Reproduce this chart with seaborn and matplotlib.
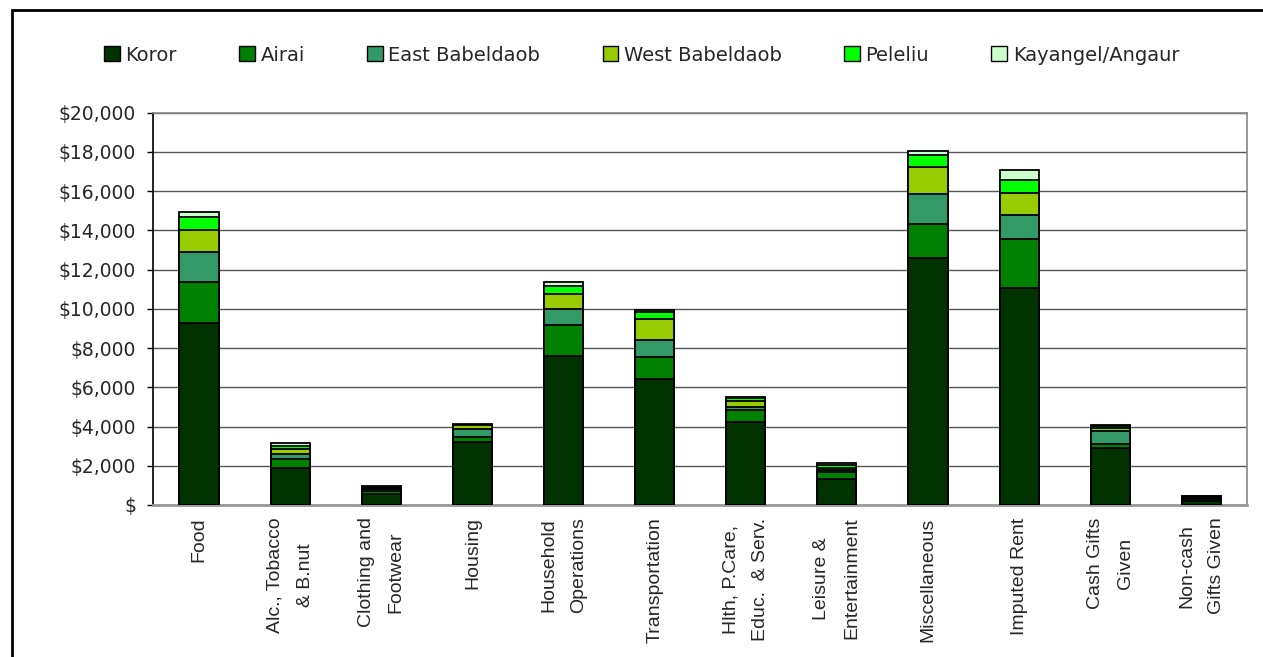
import numpy as np
import pandas as pd
import matplotlib
matplotlib.use("Agg")
import matplotlib.pyplot as plt
from matplotlib.patches import Patch, Rectangle
import seaborn as sns

# Expenditure categories (x axis)
categories = [
    "Food", "Alc., Tobacco\n& B.nut", "Clothing and\nFootwear", "Housing",
    "Household\nOperations", "Transportation", "Hlth, P.Care,\nEduc.  & Serv.",
    "Leisure &\nEntertainment", "Miscellaneous", "Imputed Rent",
    "Cash Gifts\nGiven", "Non-cash\nGifts Given",
]

# Stacked series, bottom to top
regions = ["Koror", "Airai", "East Babeldaob", "West Babeldaob", "Peleliu", "Kayangel/Angaur"]
koror = [9300, 1870, 545, 3230, 7580, 6420, 4230, 1310, 12610, 11080, 2910, 220]
airai = [2070, 490, 185, 255, 1580, 1140, 595, 370, 1690, 2470, 200, 60]
east_babeldaob = [1510, 255, 60, 405, 845, 850, 185, 120, 1535, 1240, 665, 60]
west_babeldaob = [1140, 220, 50, 170, 765, 1055, 270, 100, 1385, 1120, 170, 50]
peleliu = [680, 170, 70, 30, 395, 355, 170, 155, 600, 665, 80, 50]
kayangel_angaur = [255, 135, 60, 20, 205, 135, 50, 70, 215, 510, 55, 35]

y_ticks = [0, 2000, 4000, 6000, 8000, 10000, 12000, 14000, 16000, 18000, 20000]
y_tick_labels = ["$", "$2,000", "$4,000", "$6,000", "$8,000", "$10,000",
                 "$12,000", "$14,000", "$16,000", "$18,000", "$20,000"]

colors = ["#003300", "#008000", "#339966", "#99CC00", "#00FF00", "#CCFFCC"]

series = [koror, airai, east_babeldaob, west_babeldaob, peleliu, kayangel_angaur]
df = pd.DataFrame(dict(zip(regions, series)), index=categories)
cum = df.cumsum(axis=1)

sns.set_style("white")
plt.rcParams["font.family"] = ["Liberation Sans", "DejaVu Sans"]

fig = plt.figure(figsize=(12.63, 6.57), dpi=100)
ax = fig.add_axes([0.1215, 0.2314, 0.9873 - 0.1215, 0.8285 - 0.2314])

# Draw cumulative totals from the top layer down so each stack segment shows
for region, color in reversed(list(zip(regions, colors))):
    plot_df = pd.DataFrame({"category": categories, "value": cum[region].values})
    sns.barplot(data=plot_df, x="category", y="value", color=color,
                width=0.43, edgecolor="black", linewidth=1.3,
                saturation=1, ax=ax, zorder=3)

ax.set_ylim(0, 20000)
ax.set_xlim(-0.5, len(categories) - 0.5)
ax.set_yticks(y_ticks)
ax.set_yticklabels(y_tick_labels, fontsize=13.5, family="DejaVu Sans")
ax.set_xticks(range(len(categories)))
ax.set_xticklabels(categories, rotation=90, fontsize=14, ha="center", va="top",
                   multialignment="center", linespacing=2.0)
ax.set_xlabel("")
ax.set_ylabel("")

ax.yaxis.grid(True, color="#555555", linewidth=1.0, zorder=0)
ax.xaxis.grid(False)
ax.set_axisbelow(True)

ax.tick_params(axis="y", which="both", length=4.5, width=1, color="black",
               pad=8, left=True, direction="out")
ax.tick_params(axis="x", length=0, pad=9)

for side in ["top", "right"]:
    ax.spines[side].set_color("#888888")
    ax.spines[side].set_linewidth(1.2)
ax.spines["left"].set_color("black")
ax.spines["left"].set_linewidth(1.2)
ax.spines["bottom"].set_color("#999999")
ax.spines["bottom"].set_linewidth(2)

handles = [Patch(facecolor=c, edgecolor="black", linewidth=1) for c in colors]
fig.legend(handles, regions, loc="center", bbox_to_anchor=(0.508, 0.916),
           ncol=6, frameon=False, prop={"family": "DejaVu Sans", "size": 14},
           handlelength=0.8, handleheight=0.8, handletextpad=0.3,
           columnspacing=3.2)

# Chart border
fig.add_artist(Rectangle((12 / 1263, -0.05), 1.2, 1 - 10 / 657 + 0.05,
                         transform=fig.transFigure, fill=False,
                         edgecolor="black", linewidth=2))

fig.savefig("out.png", dpi=100, facecolor="white")
